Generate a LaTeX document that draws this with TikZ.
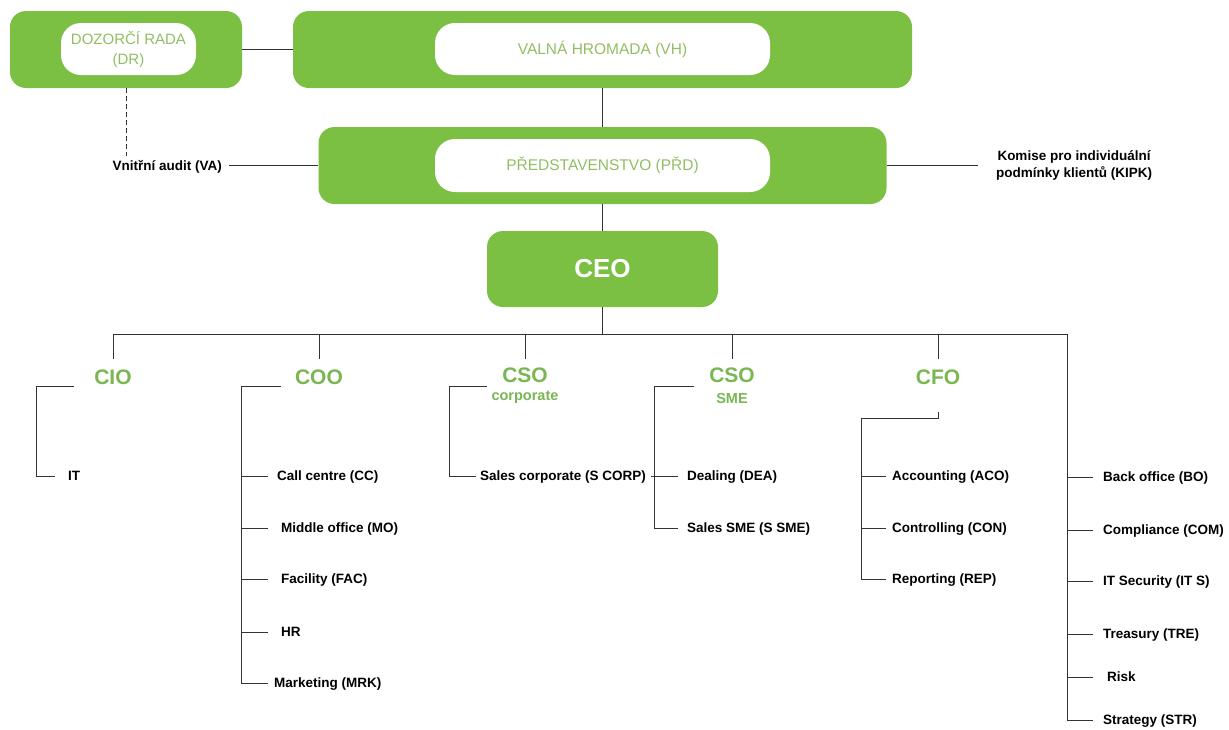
\documentclass[tikz,border=0pt]{standalone}
\usepackage{fontspec}
\setmainfont{Liberation Sans}
\definecolor{gfill}{RGB}{124,192,67}
\definecolor{gtext}{RGB}{146,190,98}
\definecolor{gtitle}{RGB}{122,182,82}
\begin{document}
\begin{tikzpicture}[x=1pt,y=-1pt]
\tikzset{
 gbox/.style={fill=gfill,rounded corners=16pt,inner sep=0pt,minimum height=77pt},
 wbox/.style={fill=white,rounded corners=20pt,inner sep=0pt,minimum height=52pt,text=gtext,font=\fontsize{15.5}{20}\selectfont,align=center},
 lbl/.style={font=\bfseries\fontsize{13.5}{17}\selectfont,inner sep=0pt,text height=9.5pt,text depth=0pt,anchor=west},
 ttl/.style={font=\bfseries\fontsize{21}{24}\selectfont,text=gtitle,inner sep=0pt},
 subttl/.style={font=\bfseries\fontsize{14.5}{17}\selectfont,text=gtitle,inner sep=0pt},
 conn/.style={draw=black!80,line width=1pt},
}
\useasboundingbox (0,0) rectangle (1229,729);
\fill[white] (0,0) rectangle (1229,729);

% top boxes
\node[gbox,minimum width=232pt] (DR) at (126,49.5) {};
\node[wbox,minimum width=135pt,font=\fontsize{15}{20}\selectfont] (DRin) at (128.5,49) {DOZORČÍ RADA\\(DR)};
\node[gbox,minimum width=619pt] (VH) at (602.5,49.5) {};
\node[wbox,minimum width=335pt] (VHin) at (602.5,49) {VALNÁ HROMADA (VH)};
\node[gbox,minimum width=568pt] (PRD) at (602.5,165.5) {};
\node[wbox,minimum width=335pt,minimum height=53pt] (PRDin) at (602.5,165.5) {PŘEDSTAVENSTVO (PŘD)};
\node[gbox,minimum width=231pt,minimum height=76pt,text=white,font=\bfseries\fontsize{26}{30}\selectfont] (CEO) at (602.5,269) {CEO};

% side labels
\node[lbl,anchor=east] (VA) at (222,165.5) {Vnitřní audit (VA)};
\node[font=\bfseries\fontsize{13.5}{17}\selectfont,align=center,inner sep=0pt] (KIPK) at (1074,165.5) {Komise pro individuální\\podmínky klientů (KIPK)};
\coordinate (vaTop) at (126,156);

\draw[conn] (DR.east) -- (VH.west);
\draw[conn] (VH.south) -- (PRD.north);
\draw[conn] (PRD.south) -- (CEO.north);
\draw[conn,dash pattern=on 5pt off 3pt] (DR.south) -- (vaTop);
\draw[conn] ([xshift=7pt]VA.east) -- (PRD.west);
\draw[conn] (PRD.east) -- ([xshift=-18pt]KIPK.west);

% bus
\coordinate (busC) at (602.5,334);
\coordinate (busL) at (113,334);
\coordinate (busR) at (1067,334);
\draw[conn] (CEO.south) -- (busC);
\draw[conn] (busL) -- (busR);

% titles
\node[ttl] (CIO) at (113,377) {CIO};
\node[ttl] (COO) at (319,377) {COO};
\node[ttl] (CSOc) at (525,375) {CSO};
\node[subttl] (CSOcs) at (525,397) {corporate};
\node[ttl] (CSOs) at (732,375) {CSO};
\node[subttl] (CSOss) at (732,398) {SME};
\node[ttl] (CFO) at (938,377) {CFO};

\coordinate (cioT) at (113,359);
\coordinate (cooB) at (319,334); \coordinate (cooT) at (319,359);
\coordinate (cscB) at (525,334); \coordinate (cscT) at (525,359);
\coordinate (cssB) at (732,334); \coordinate (cssT) at (732,359);
\coordinate (cfoB) at (938,334); \coordinate (cfoT) at (938,359);
\draw[conn] (busL) -- (cioT);
\draw[conn] (cooB) -- (cooT);
\draw[conn] (cscB) -- (cscT);
\draw[conn] (cssB) -- (cssT);
\draw[conn] (cfoB) -- (cfoT);

% CIO group
\node[lbl] (IT) at (68,476) {IT};
\coordinate (cioK) at (74,386);
\draw[conn] (cioK) -- (36,386) |- ([xshift=-13pt]IT.west);

% COO group
\node[lbl] (CC) at (277,476) {Call centre (CC)};
\node[lbl] (MO) at (281,528) {Middle office (MO)};
\node[lbl] (FAC) at (281,579) {Facility (FAC)};
\node[lbl] (HR) at (281,632) {HR};
\node[lbl] (MRK) at (274,683) {Marketing (MRK)};
\coordinate (cooK) at (281,386);
\coordinate (cooS) at (241,386);
\draw[conn] (cooK) -- (cooS) |- ([xshift=-6pt]MRK.west);
\draw[conn] (cooS |- CC.west) -- ([xshift=-9pt]CC.west);
\draw[conn] (cooS |- MO.west) -- ([xshift=-13pt]MO.west);
\draw[conn] (cooS |- FAC.west) -- ([xshift=-13pt]FAC.west);
\draw[conn] (cooS |- HR.west) -- ([xshift=-13pt]HR.west);

% CSO corporate group
\node[lbl] (SCORP) at (480,476) {Sales corporate (S CORP)};
\coordinate (cscK) at (487,386);
\draw[conn] (cscK) -- (449,386) |- ([xshift=-4pt]SCORP.west);

% CSO SME group
\node[lbl] (DEA) at (687,476) {Dealing (DEA)};
\node[lbl] (SSME) at (687,528) {Sales SME (S SME)};
\coordinate (cssK) at (694,386);
\coordinate (cssS) at (654,386);
\coordinate (deaL) at (651,476);
\draw[conn] (cssK) -- (cssS) |- ([xshift=-9pt]SSME.west);
\draw[conn] (deaL) -- ([xshift=-9pt]DEA.west);

% CFO group
\node[lbl] (ACO) at (892,476) {Accounting (ACO)};
\node[lbl] (CON) at (892,528) {Controlling (CON)};
\node[lbl] (REP) at (892,579) {Reporting (REP)};
\coordinate (cfoK) at (938,412);
\coordinate (cfoS) at (861,418);
\draw[conn] (cfoK) -- (938,418) -- (cfoS) |- ([xshift=-6pt]REP.west);
\draw[conn] (cfoS |- ACO.west) -- ([xshift=-6pt]ACO.west);
\draw[conn] (cfoS |- CON.west) -- ([xshift=-6pt]CON.west);

% right column
\node[lbl] (BO) at (1103,477) {Back office (BO)};
\node[lbl] (COM) at (1103,530) {Compliance (COM)};
\node[lbl] (ITS) at (1103,581) {IT Security (IT S)};
\node[lbl] (TRE) at (1103,634) {Treasury (TRE)};
\node[lbl] (RISK) at (1107,677) {Risk};
\node[lbl] (STR) at (1103,720) {Strategy (STR)};
\draw[conn] (busR) |- ([xshift=-10pt]STR.west);
\draw[conn] (busR |- BO.west) -- ([xshift=-10pt]BO.west);
\draw[conn] (busR |- COM.west) -- ([xshift=-10pt]COM.west);
\draw[conn] (busR |- ITS.west) -- ([xshift=-10pt]ITS.west);
\draw[conn] (busR |- TRE.west) -- ([xshift=-10pt]TRE.west);
\draw[conn] (busR |- RISK.west) -- ([xshift=-14pt]RISK.west);
\end{tikzpicture}
\end{document}
